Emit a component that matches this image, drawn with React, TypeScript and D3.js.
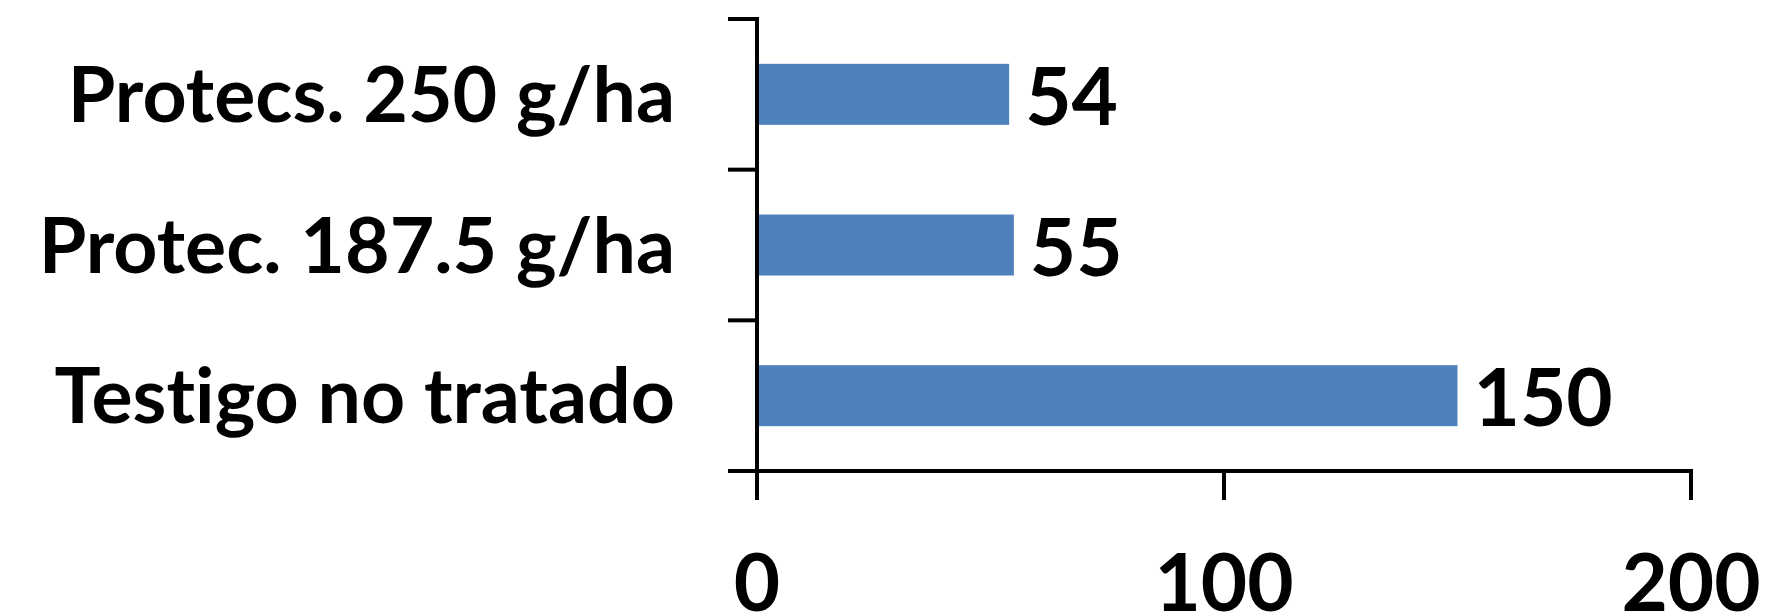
import React from 'react';
import * as d3 from 'd3';

// chart data
const categories = ['Protecs. 250 g/ha', 'Protec. 187.5 g/ha', 'Testigo no tratado'];
const values = [54, 55, 150];
const xTicks = [0, 100, 200];

const App = () => {
  const width = 1768;
  const height = 615;
  const margin = { top: 19, left: 757, right: 77, bottom: 144 };
  const plotBottom = height - margin.bottom;
  const plotRight = width - margin.right;
  const font = 'Lato, "Open Sans", sans-serif';
  const textStyle = { fontVariantLigatures: 'none' as const };

  const xScale = d3.scaleLinear().domain([0, 200]).range([margin.left, plotRight]);
  const yScale = d3.scaleBand<string>().domain(categories).range([margin.top, plotBottom]).padding(0);
  const barH = yScale.bandwidth() * 0.405;
  const tickLen = 29;

  const labelSize = 77;
  const valueSize = 80;
  const capRatio = 0.7165;

  const bounds = categories.map(c => yScale(c) as number).concat([plotBottom]);

  return (
    <svg width={width} height={height} style={{ position: 'absolute', left: 0, top: 0, background: 'white' }}>
      {/* bars */}
      {categories.map((c, i) => {
        const cy = (yScale(c) as number) + yScale.bandwidth() / 2;
        return (
          <g key={c}>
            <rect x={xScale(0)} y={cy - barH / 2} width={xScale(values[i]) - xScale(0)} height={barH} fill='#4F81BD'/>
            <text x={xScale(values[i]) + 16} y={cy + valueSize * capRatio / 2 + 2} fontFamily={font} fontWeight={700} fontSize={valueSize} fill='#000' style={textStyle}>
              {values[i]}
            </text>
            <text x={675} y={cy + labelSize * capRatio / 2} textAnchor='end' fontFamily={font} fontWeight={700} fontSize={labelSize} fill='#000' style={textStyle}>
              {c}
            </text>
          </g>
        );
      })}

      {/* y axis */}
      <line x1={xScale(0)} x2={xScale(0)} y1={margin.top - 2} y2={plotBottom} stroke='#000' strokeWidth={4}/>
      {bounds.map((b, i) => (
        <line key={'yt' + i} x1={xScale(0) - tickLen} x2={xScale(0)} y1={b} y2={b} stroke='#000' strokeWidth={4}/>
      ))}

      {/* x axis */}
      <line x1={xScale(0) - 2} x2={plotRight + 2} y1={plotBottom} y2={plotBottom} stroke='#000' strokeWidth={4}/>
      {xTicks.map(t => (
        <g key={'xt' + t}>
          <line x1={xScale(t)} x2={xScale(t)} y1={plotBottom} y2={plotBottom + tickLen} stroke='#000' strokeWidth={4}/>
          <text x={xScale(t)} y={611} textAnchor='middle' fontFamily={font} fontWeight={700} fontSize={valueSize} fill='#000' style={textStyle}>
            {t}
          </text>
        </g>
      ))}
    </svg>
  );
};

export default App;
